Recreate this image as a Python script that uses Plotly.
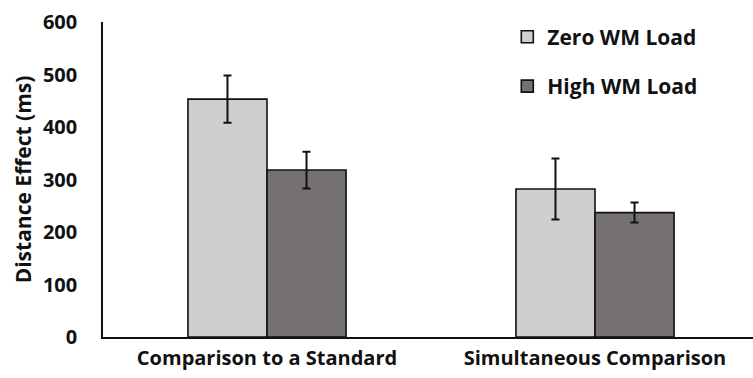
import plotly.graph_objects as go

categories = ["Comparison to a Standard", "Simultaneous Comparison"]
series_names = ["Zero WM Load", "High WM Load"]
zero_load = [453, 282]
zero_err = [45, 58]
high_load = [318, 237]
high_err = [35, 19]
y_ticks = [0, 100, 200, 300, 400, 500, 600]

FONT = "Open Sans"
x = list(range(len(categories)))

fig = go.Figure()
fig.add_trace(go.Bar(
    x=x, y=zero_load, name=series_names[0], legendgroup="a",
    marker=dict(color="#d0cecf", line=dict(color="#111111", width=1.6)),
    error_y=dict(type="data", array=zero_err, color="#111111", thickness=2, width=4),
))
fig.add_trace(go.Bar(
    x=x, y=high_load, name=series_names[1], legendgroup="b",
    marker=dict(color="#767171", line=dict(color="#111111", width=1.6)),
    error_y=dict(type="data", array=high_err, color="#111111", thickness=2, width=4),
))

fig.update_layout(
    width=753, height=378,
    margin=dict(l=103, r=0, t=22, b=41),
    paper_bgcolor="white", plot_bgcolor="white",
    barmode="group", bargap=0.518, bargroupgap=0,
    font=dict(family=FONT, size=17, color="#111111"),
    legend=dict(x=0.622, y=1.017, xanchor="left", yanchor="top",
                font=dict(family=FONT, size=21, color="#111111", weight="bold"),
                tracegroupgap=19, itemwidth=30, bgcolor="rgba(0,0,0,0)"),
    showlegend=True,
)
fig.update_xaxes(
    range=[-0.5, 1.5 - 6 / 328], tickvals=x, ticktext=categories,
    showline=True, linecolor="#111111", linewidth=1.6, showgrid=False,
    ticks="", tickfont=dict(family=FONT, size=20, color="#111111", weight="bold"),
    ticklabelstandoff=2, zeroline=False,
)
fig.update_yaxes(
    range=[0, 600], tickvals=y_ticks, showline=True, linecolor="#111111", linewidth=1.6,
    showgrid=False, ticks="", zeroline=False,
    tickfont=dict(family=FONT, size=20, color="#111111", weight="bold"),
    ticklabelstandoff=20,
    title=dict(text="Distance Effect (ms)", standoff=6,
               font=dict(family=FONT, size=21, color="#111111", weight="bold")),
)

fig.write_html("out.html")
